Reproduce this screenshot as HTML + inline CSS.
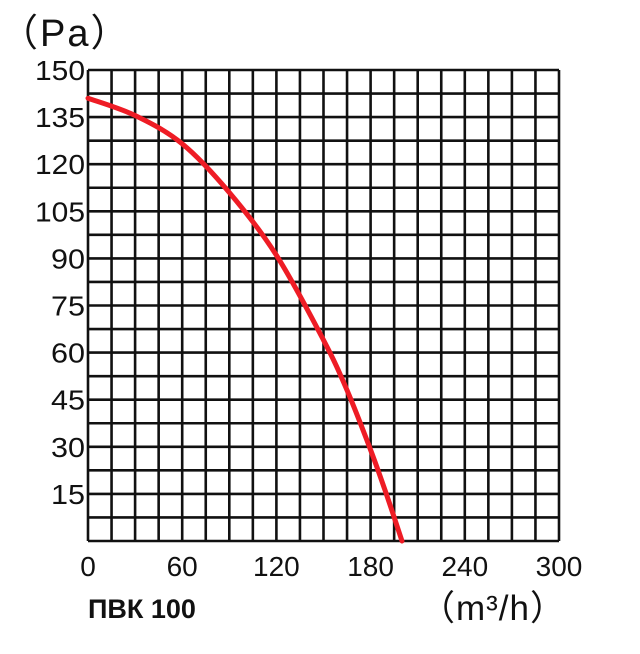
<!DOCTYPE html>
<html><head><meta charset="utf-8"><style>
body{margin:0;background:#fff;width:640px;height:649px;overflow:hidden}
text{font-family:"Liberation Sans",sans-serif;fill:#111}
</style></head><body>
<svg width="640" height="649">
<g id="grid"></g>
<g id="yt"></g>
<g id="xt"></g>
<path id="curve" fill="none" stroke="#ee1c25" stroke-width="5" stroke-linecap="round"/>
<text x="0" y="46" font-size="38" letter-spacing="2">（Pa）</text>
<text x="88" y="618" font-size="27" font-weight="bold">ПВК 100</text>
<text x="420" y="620" font-size="35" letter-spacing="1">（m³/h）</text>
</svg>
<script>
const xTicks=[0,60,120,180,240,300];
const yTicks=[15,30,45,60,75,90,105,120,135,150];
const flowValues=[0,30,60,90,120,150,165,180,190,200];
const pressureValues=[141,135.5,126.5,111,91,64,48,29,15,0];
const L=88,R=559,T=70,B=541;
const sx=v=>L+(R-L)*v/300, sy=v=>B-(B-T)*v/150;
const ns="http://www.w3.org/2000/svg";
function mk(t,a,p){const e=document.createElementNS(ns,t);for(const k in a)e.setAttribute(k,a[k]);p.appendChild(e);return e;}
const g=document.getElementById('grid');
for(let i=0;i<=20;i++){
 const x=sx(i*15),y=sy(i*7.5);
 const l1=mk('line',{x1:x,x2:x,y1:T,y2:B,stroke:'#111','stroke-width':2.6},g);
 
 
 const l2=mk('line',{x1:L,x2:R,y1:y,y2:y,stroke:'#111','stroke-width':2.6},g);
 
 
}
const yt=document.getElementById('yt');
yTicks.forEach(v=>{const t=mk('text',{x:85,y:sy(v)+10,'text-anchor':'end','font-size':28,'textLength':v>=100?50:34,'lengthAdjust':'spacingAndGlyphs'},yt);t.textContent=v;
 
 });
const xt=document.getElementById('xt');
xTicks.forEach(v=>{const t=mk('text',{x:sx(v),y:576,'text-anchor':'middle','font-size':28},xt);t.textContent=v;
 
 });
const P=flowValues.map((f,i)=>[sx(f),sy(pressureValues[i])]);
let d='M'+P[0][0]+','+P[0][1];
for(let i=0;i<P.length-1;i++){const p0=P[Math.max(0,i-1)],p1=P[i],p2=P[i+1],p3=P[Math.min(P.length-1,i+2)];
 d+=` C${p1[0]+(p2[0]-p0[0])/6},${p1[1]+(p2[1]-p0[1])/6} ${p2[0]-(p3[0]-p1[0])/6},${p2[1]-(p3[1]-p1[1])/6} ${p2[0]},${p2[1]}`;}
document.getElementById('curve').setAttribute('d',d);
</script>
</body></html>
